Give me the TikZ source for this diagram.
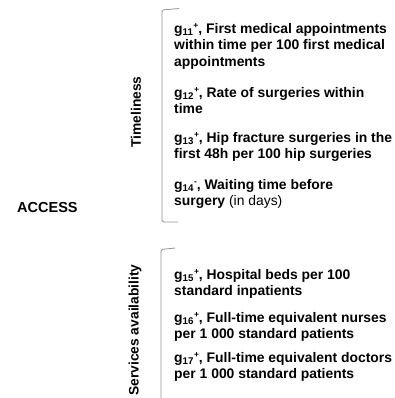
\documentclass[tikz,border=0pt]{standalone}
\usepackage{fontspec}
\setmainfont{Liberation Sans}
\newcommand{\gind}[2]{g\textsubscript{#1}\raisebox{0.33em}{\fontsize{8.5}{9}\selectfont #2}}
\begin{document}
\begin{tikzpicture}[x=1pt,y=-1pt,
  item/.style={anchor=north west, inner sep=0pt, align=left, font=\fontsize{13.9}{16.5}\selectfont\bfseries},
  cat/.style={rotate=90, inner sep=0pt, font=\fontsize{13.8}{16}\selectfont\bfseries},
  brk/.style={draw=gray!85, line width=0.8pt, rounded corners=1.5pt}]
\useasboundingbox[fill=white] (0,0) rectangle (395,398);
\node[anchor=west, inner sep=0pt, font=\fontsize{14.5}{16}\selectfont\bfseries] (access) at (17,208) {ACCESS};
\node[cat] (time) at (136,112) {Timeliness};
\node[cat] (serv) at (135,330) {Services availability};
\draw[brk] (179,8.5) -- (162,10) -- (162,222) -- (178,222);
\draw[brk] (175,248) -- (161,249.5) -- (161,398);
\node[item] (g11) at (174,21.45) {\strut\gind{11}{+}, First medical appointments\\within time per 100 first medical\\appointments};
\node[item] (g12) at (174,85.45) {\strut\gind{12}{+}, Rate of surgeries within\\time};
\node[item] (g13) at (174,130.45) {\strut\gind{13}{+}, Hip fracture surgeries in the\\first 48h per 100 hip surgeries};
\node[item] (g14) at (174,177.45) {\strut\gind{14}{-}, Waiting time before\\surgery {\mdseries(in days)}};
\node[item] (g15) at (174,267.45) {\strut\gind{15}{+}, Hospital beds per 100\\standard inpatients};
\node[item] (g16) at (174,310.45) {\strut\gind{16}{+}, Full-time equivalent nurses\\per 1 000 standard patients};
\node[item] (g17) at (174,350.45) {\strut\gind{17}{+}, Full-time equivalent doctors\\per 1 000 standard patients};
\end{tikzpicture}
\end{document}
